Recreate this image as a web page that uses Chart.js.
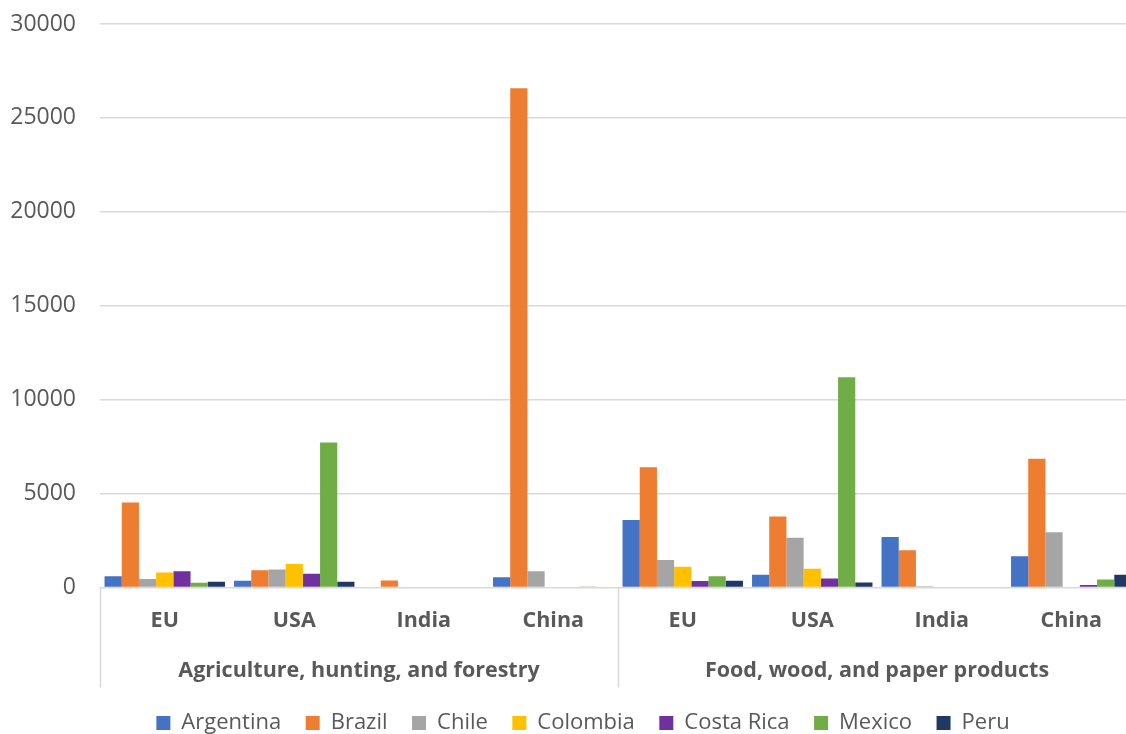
<!DOCTYPE html>
<html>
<head>
<meta charset="utf-8">
<title>Investment by sector and destination</title>
<script src="https://cdn.jsdelivr.net/npm/chart.js@4.4.1/dist/chart.umd.min.js"></script>
<style>
  html, body { margin: 0; padding: 0; background: #ffffff; overflow: hidden; }
  #wrap { position: relative; width: 1140px; height: 744px; }
</style>
</head>
<body>
<div id="wrap"><canvas id="chart"></canvas></div>
<script>
// Destination regions, repeated for each sector
const regions = ['EU', 'USA', 'India', 'China', 'EU', 'USA', 'India', 'China'];
const sectors = ['Agriculture, hunting, and forestry', 'Food, wood, and paper products'];

// Values per source country, one entry per region above
const argentina = [600, 360, 0, 550, 3600, 680, 2690, 1660];
const brazil    = [4530, 920, 370, 26580, 6400, 3780, 1980, 6860];
const chile     = [450, 960, 0, 860, 1460, 2650, 70, 2940];
const colombia  = [800, 1250, 0, 0, 1100, 1000, 0, 40];
const costaRica = [870, 730, 0, 0, 340, 480, 0, 130];
const mexico    = [250, 7720, 0, 50, 600, 11190, 0, 430];
const peru      = [300, 300, 0, 40, 360, 270, 0, 680];

const yTicks = [0, 5000, 10000, 15000, 20000, 25000, 30000];

const countries = ['Argentina', 'Brazil', 'Chile', 'Colombia', 'Costa Rica', 'Mexico', 'Peru'];
const series = [argentina, brazil, chile, colombia, costaRica, mexico, peru];
const colors = ['#4472C4', '#ED7D31', '#A5A5A5', '#FFC000', '#7030A0', '#70AD47', '#203864'];

const sans = '"Open Sans", "Noto Sans", sans-serif';
const textColor = '#595959';
const lineColor = '#d9d9d9';

// Vertical separators between the sector groups under the category axis
const groupLines = {
  id: 'groupLines',
  afterDraw(chart) {
    const x = chart.scales.x;
    const x2 = chart.scales.x2;
    const top = chart.chartArea.bottom;
    const bottom = x2.bottom;
    const mid = (x.getPixelForValue(3) + x.getPixelForValue(4)) / 2;
    const ctx = chart.ctx;
    ctx.save();
    ctx.strokeStyle = lineColor;
    ctx.lineWidth = 1.5;
    [x.left, mid, x.right].forEach(px => {
      ctx.beginPath();
      ctx.moveTo(Math.round(px) + 0.5, top);
      ctx.lineTo(Math.round(px) + 0.5, bottom);
      ctx.stroke();
    });
    ctx.restore();
  }
};

// Centre the legend under the plot area rather than the whole canvas
const legendShift = {
  id: 'legendShift',
  afterLayout(chart) {
    const lg = chart.legend;
    if (!lg) return;
    const dx = 15;
    lg.left += dx;
    lg.right += dx;
  }
};

new Chart(document.getElementById('chart'), {
  type: 'bar',
  data: {
    labels: regions,
    datasets: countries.map((name, i) => ({
      label: name,
      data: series[i],
      backgroundColor: colors[i],
      borderWidth: 0,
      categoryPercentage: 0.93,
      barPercentage: 1.0
    }))
  },
  options: {
    responsive: true,
    maintainAspectRatio: false,
    animation: false,
    layout: { padding: { top: 0, right: 4, bottom: 0, left: 0 } },
    plugins: {
      tooltip: { enabled: false },
      legend: {
        position: 'bottom',
        labels: {
          color: textColor,
          font: { family: sans, size: 22 },
          boxWidth: 14,
          boxHeight: 14,
          padding: 24.5
        }
      }
    },
    scales: {
      x: {
        type: 'category',
        position: 'bottom',
        grid: { display: false, drawTicks: false },
        border: { display: false },
        ticks: {
          color: textColor,
          font: { family: sans, size: 21.5, weight: 'bold' },
          padding: 20,
          maxRotation: 0
        },
        afterFit(scale) { scale.height = 50; }
      },
      x2: {
        type: 'category',
        labels: sectors,
        position: 'bottom',
        offset: true,
        grid: { display: false, drawTicks: false },
        border: { display: false },
        ticks: {
          color: textColor,
          font: { family: sans, size: 21.5, weight: 'bold' },
          padding: 20,
          maxRotation: 0
        },
        afterFit(scale) { scale.height = 50; }
      },
      y: {
        min: 0,
        max: 30000,
        afterBuildTicks(scale) { scale.ticks = yTicks.map(v => ({ value: v })); },
        afterFit(scale) {
          scale.width = 100;
          scale.paddingTop = 24;
          scale.paddingBottom = 0;
        },
        grid: { color: lineColor, lineWidth: 1.5, drawTicks: false },
        border: { display: false },
        ticks: {
          color: textColor,
          font: { family: sans, size: 23 },
          padding: 24,
          callback: value => String(value)
        }
      }
    }
  },
  plugins: [groupLines, legendShift]
});
</script>
</body>
</html>
